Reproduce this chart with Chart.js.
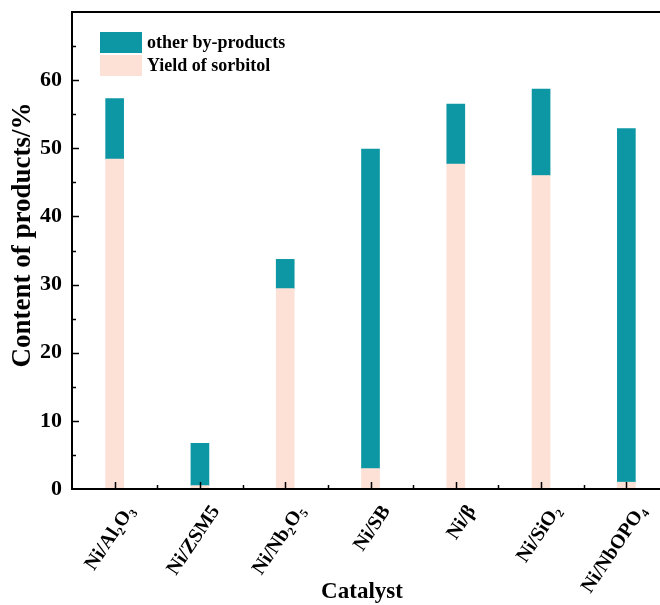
<!DOCTYPE html>
<html>
<head>
<meta charset="utf-8">
<script src="https://cdn.jsdelivr.net/npm/chart.js@4.4.0/dist/chart.umd.min.js"></script>
<style>
    body { margin: 0; background: #ffffff; overflow: hidden; width: 660px; height: 605px; }
    #wrap { width: 680px; height: 605px; }
</style>
</head>
<body>
<div id="wrap"><canvas id="productChart" width="680" height="605"></canvas></div>
<script>
// Product distribution over Ni catalysts (stacked bars)

const catalysts = ['Ni/Al₂O₃', 'Ni/ZSM5', 'Ni/Nb₂O₅', 'Ni/SB', 'Ni/β', 'Ni/SiO₂', 'Ni/NbOPO₄'];
const sorbitolYield = [48.4, 0.5, 29.4, 3.0, 47.7, 46.0, 1.0];
const byProducts = [8.9, 6.2, 4.3, 46.9, 8.8, 12.7, 51.9];
const yTickValues = [0, 10, 20, 30, 40, 50, 60];

const TEAL = '#0d97a5';
const PINK = '#fde0d6';
const SERIF = '"Liberation Serif", "Times New Roman", serif';

// --- Frame, inward ticks, axis titles and legend ---

const framePlugin = {
    id: 'frame',
    afterDraw(chart) {
        const { ctx, chartArea: a, scales } = chart;
        const x = scales.x;
        const y = scales.y;
        ctx.save();
        ctx.strokeStyle = '#000';
        ctx.lineWidth = 2;
        // left, top and bottom lines (the right one falls outside the picture)
        ctx.beginPath();
        ctx.moveTo(a.right + 5, a.top);
        ctx.lineTo(a.left, a.top);
        ctx.lineTo(a.left, a.bottom);
        ctx.lineTo(a.right + 5, a.bottom);
        ctx.stroke();

        // y ticks every 5, major every 10
        ctx.lineWidth = 1.5;
        for (let v = 5; v < 70; v += 5) {
            const py = Math.round(y.getPixelForValue(v)) + 0.5;
            const len = v % 10 === 0 ? 7 : 4;
            ctx.beginPath();
            ctx.moveTo(a.left, py);
            ctx.lineTo(a.left + len, py);
            ctx.stroke();
        }

        // x ticks at categories and minor between them
        for (let i = 0; i < catalysts.length; i++) {
            const px = Math.round(x.getPixelForValue(i)) + 0.5;
            ctx.beginPath();
            ctx.moveTo(px, a.bottom);
            ctx.lineTo(px, a.bottom - 7);
            ctx.stroke();
            const mx = Math.round(x.getPixelForValue(i + 0.5)) + 0.5;
            ctx.beginPath();
            ctx.moveTo(mx, a.bottom);
            ctx.lineTo(mx, a.bottom - 4);
            ctx.stroke();
        }

        // axis titles
        ctx.fillStyle = '#000';
        ctx.textAlign = 'center';
        ctx.textBaseline = 'middle';
        ctx.font = 'bold 23px ' + SERIF;
        ctx.fillText('Catalyst', 362, 592);
        ctx.save();
        ctx.translate(23, 235);
        ctx.rotate(-Math.PI / 2);
        ctx.font = 'bold 27px ' + SERIF;
        ctx.fillText('Content of products/%', 0, 0);
        ctx.restore();

        // legend: by-products above sorbitol
        const items = [chart.data.datasets[1], chart.data.datasets[0]];
        ctx.font = 'bold 18px ' + SERIF;
        ctx.textAlign = 'left';
        items.forEach((ds, k) => {
            const top = 32 + k * 23;
            ctx.fillStyle = ds.backgroundColor;
            ctx.fillRect(100, top, 42, 21);
            ctx.fillStyle = '#000';
            ctx.fillText(ds.label, 147, top + 11);
        });
        ctx.restore();
    }
};

function noScalePadding(scale) {
    scale.paddingLeft = 0;
    scale.paddingRight = 0;
    scale.paddingTop = 0;
    scale.paddingBottom = 0;
}

const ctx = document.getElementById('productChart').getContext('2d');

new Chart(ctx, {
    type: 'bar',
    data: {
        labels: catalysts,
        datasets: [
            {
                label: 'Yield of sorbitol',
                data: sorbitolYield,
                backgroundColor: PINK,
                barThickness: 18
            },
            {
                label: 'other by-products',
                data: byProducts,
                backgroundColor: TEAL,
                barThickness: 18
            }
        ]
    },
    options: {
        responsive: false,
        animation: false,
        layout: { padding: { top: 12, right: 11, left: 0, bottom: 0 } },
        scales: {
            x: {
                stacked: true,
                grid: { display: false, drawTicks: false },
                border: { display: false },
                ticks: {
                    color: '#000',
                    font: { family: SERIF, size: 20, weight: 'bold' },
                    minRotation: 56,
                    maxRotation: 56,
                    padding: 12,
                    labelOffset: 16,
                    autoSkip: false
                },
                afterFit(scale) {
                    scale.height = 116;
                    noScalePadding(scale);
                }
            },
            y: {
                stacked: true,
                min: 0,
                max: 70,
                grid: { display: false, drawTicks: false },
                border: { display: false },
                ticks: {
                    color: '#000',
                    font: { family: SERIF, size: 22, weight: 'bold' },
                    stepSize: 10,
                    padding: 10,
                    callback: (v) => yTickValues.includes(v) ? v : ''
                },
                afterFit(scale) {
                    scale.width = 72;
                    noScalePadding(scale);
                }
            }
        },
        plugins: {
            legend: { display: false },
            tooltip: { enabled: false }
        }
    },
    plugins: [framePlugin]
});
</script>
</body>
</html>
